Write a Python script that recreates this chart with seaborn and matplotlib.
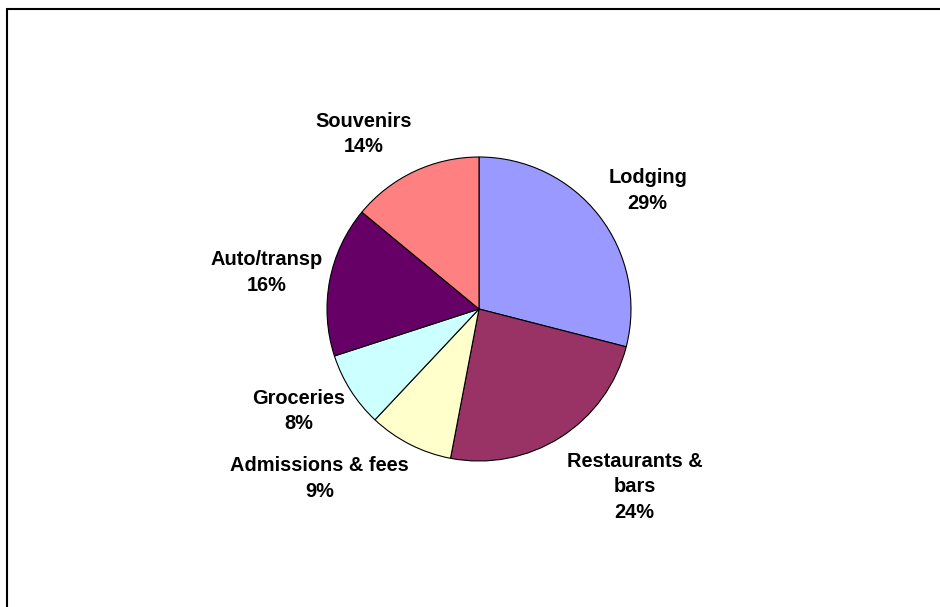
import matplotlib
matplotlib.use("Agg")
import matplotlib.pyplot as plt
import seaborn as sns
from matplotlib.lines import Line2D

# ---- data ----
categories = ["Lodging", "Restaurants &\nbars", "Admissions & fees", "Groceries", "Auto/transp", "Souvenirs"]
shares = [29, 24, 9, 8, 16, 14]
colors = ["#9999FF", "#993366", "#FFFFCC", "#CCFFFF", "#660066", "#FF8080"]

# label positions in units of pie radius (layout only)
label_pos = [(1.109, 0.780), (1.023, -1.171), (-1.049, -1.118),
             (-1.188, -0.671), (-1.395, 0.243), (-0.757, 1.151)]

sns.set_theme(style="white")
plt.rcParams["font.family"] = ["Liberation Sans", "DejaVu Sans"]

W, H = 940, 607
cx, cy, R = 479, 309, 152
fig = plt.figure(figsize=(W / 100, H / 100), dpi=100)
fig.patch.set_facecolor("white")
ax = fig.add_axes([0, 0, 1, 1])

ax.pie(shares, colors=colors, startangle=90, counterclock=False, radius=1,
       wedgeprops=dict(edgecolor="black", linewidth=0.8))

for (x, y), cat, v in zip(label_pos, categories, shares):
    ax.text(x, y, f"{cat}\n{v}%", ha="center", va="center", fontsize=14.4,
            fontweight="bold", color="black", linespacing=1.46)

ax.set_xlim(-cx / R, (W - cx) / R)
ax.set_ylim((cy - H) / R, cy / R)
ax.set_aspect("auto")
ax.axis("off")

# chart area frame (left and top edges visible)
fx, fy = 7.5 / W, 1 - 8.5 / H
fig.add_artist(Line2D([fx, fx], [fy, -0.01], transform=fig.transFigure, color="black", lw=1.5))
fig.add_artist(Line2D([fx, 1.01], [fy, fy], transform=fig.transFigure, color="black", lw=1.5))

fig.savefig("out.png", dpi=100, facecolor="white")
